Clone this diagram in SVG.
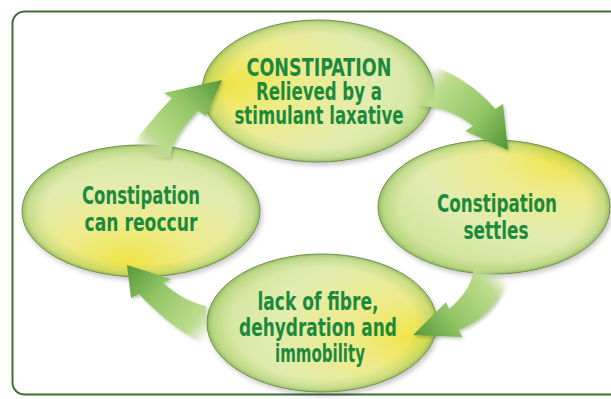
<svg xmlns="http://www.w3.org/2000/svg" width="611" height="399" viewBox="0 0 611 399">
  <style>
    .lbl { font-family: "Liberation Sans Narrow", "DejaVu Sans Condensed", "Liberation Sans", sans-serif; font-weight: bold; font-size: 24px; fill: #1b8a3c; text-anchor: middle; }
    .base { stroke: #5a6f3c; stroke-width: 1; stroke-opacity: 0.8; filter: url(#shadow); }
    .rim { fill: url(#rim); }
    .arrow { stroke: none; filter: url(#ashadow); }
  </style>
  <defs>
    <filter id="shadow" x="-20%" y="-20%" width="140%" height="150%">
      <feDropShadow dx="2" dy="3" stdDeviation="2.5" flood-color="#000" flood-opacity="0.22"/>
    </filter>
    <filter id="ashadow" x="-30%" y="-30%" width="160%" height="160%">
      <feDropShadow dx="1.5" dy="2" stdDeviation="1.5" flood-color="#2e5a1e" flood-opacity="0.3"/>
    </filter>
    <radialGradient id="rim">
      <stop offset="0" stop-color="#ffffff" stop-opacity="0"/>
      <stop offset="0.8" stop-color="#9cc45a" stop-opacity="0"/>
      <stop offset="0.95" stop-color="#8cbf55" stop-opacity="0.35"/>
      <stop offset="1" stop-color="#6aa040" stop-opacity="0.6"/>
    </radialGradient>
    <radialGradient id="gTop" cx="0.12" cy="0.45" r="0.95">
      <stop offset="0" stop-color="#f0e447"/>
      <stop offset="0.3" stop-color="#eeeb8c"/>
      <stop offset="0.65" stop-color="#e2ecb0"/>
      <stop offset="1" stop-color="#cde398"/>
    </radialGradient>
    <radialGradient id="gRight" cx="0.8" cy="0.12" r="0.95">
      <stop offset="0" stop-color="#f0e447"/>
      <stop offset="0.3" stop-color="#eeeb8c"/>
      <stop offset="0.65" stop-color="#e2ecb0"/>
      <stop offset="1" stop-color="#cde398"/>
    </radialGradient>
    <radialGradient id="gLeft" cx="0.45" cy="0.88" r="0.95">
      <stop offset="0" stop-color="#f0e447"/>
      <stop offset="0.3" stop-color="#eeeb8c"/>
      <stop offset="0.65" stop-color="#e2ecb0"/>
      <stop offset="1" stop-color="#cde398"/>
    </radialGradient>
    <radialGradient id="gBottom" cx="0.9" cy="0.6" r="0.95">
      <stop offset="0" stop-color="#f0e447"/>
      <stop offset="0.3" stop-color="#eeeb8c"/>
      <stop offset="0.65" stop-color="#e2ecb0"/>
      <stop offset="1" stop-color="#cde398"/>
    </radialGradient>
    <linearGradient id="a1" gradientUnits="userSpaceOnUse" x1="146" y1="156" x2="222" y2="80">
      <stop offset="0" stop-color="#d3e8a0" stop-opacity="0"/>
      <stop offset="0.18" stop-color="#bcdc8c"/>
      <stop offset="0.6" stop-color="#94c666"/>
      <stop offset="1" stop-color="#55993a"/>
    </linearGradient>
    <linearGradient id="a2" gradientUnits="userSpaceOnUse" x1="420" y1="84" x2="508" y2="150">
      <stop offset="0" stop-color="#d3e8a0" stop-opacity="0"/>
      <stop offset="0.18" stop-color="#bcdc8c"/>
      <stop offset="0.6" stop-color="#94c666"/>
      <stop offset="1" stop-color="#519536"/>
    </linearGradient>
    <linearGradient id="a3" gradientUnits="userSpaceOnUse" x1="494" y1="266" x2="413" y2="335">
      <stop offset="0" stop-color="#d3e8a0" stop-opacity="0"/>
      <stop offset="0.18" stop-color="#bcdc8c"/>
      <stop offset="0.6" stop-color="#94c666"/>
      <stop offset="1" stop-color="#55993a"/>
    </linearGradient>
    <linearGradient id="a4" gradientUnits="userSpaceOnUse" x1="212" y1="328" x2="127" y2="265">
      <stop offset="0" stop-color="#d3e8a0" stop-opacity="0"/>
      <stop offset="0.18" stop-color="#bcdc8c"/>
      <stop offset="0.6" stop-color="#94c666"/>
      <stop offset="1" stop-color="#55993a"/>
    </linearGradient>
  </defs>

  <rect x="0" y="0" width="611" height="399" fill="#ffffff"/>
  <rect x="12.5" y="11.5" width="640" height="383" rx="12" fill="#ffffff" stroke="#3e6f35" stroke-width="2"/>

  <g id="node-top">
    <ellipse class="base" cx="318" cy="91" rx="116" ry="71" fill="url(#gTop)"/>
    <ellipse class="rim" cx="318" cy="91" rx="116" ry="71"/>
    <text class="lbl" x="319" y="76" textLength="145" lengthAdjust="spacingAndGlyphs">CONSTIPATION</text>
    <text class="lbl" x="319" y="100" textLength="126" lengthAdjust="spacingAndGlyphs">Relieved by a</text>
    <text class="lbl" x="319" y="124" textLength="169" lengthAdjust="spacingAndGlyphs">stimulant laxative</text>
  </g>

  <g id="node-right">
    <ellipse class="base" cx="494" cy="207" rx="116" ry="67" fill="url(#gRight)"/>
    <ellipse class="rim" cx="494" cy="207" rx="116" ry="67"/>
    <text class="lbl" x="497" y="212" textLength="120" lengthAdjust="spacingAndGlyphs">Constipation</text>
    <text class="lbl" x="496" y="239" textLength="65" lengthAdjust="spacingAndGlyphs">settles</text>
  </g>

  <g id="node-bottom">
    <ellipse class="base" cx="322" cy="323" rx="115" ry="69" fill="url(#gBottom)"/>
    <ellipse class="rim" cx="322" cy="323" rx="115" ry="69"/>
    <text class="lbl" x="318" y="310" textLength="121" lengthAdjust="spacingAndGlyphs">lack of fibre,</text>
    <text class="lbl" x="318" y="336" textLength="158" lengthAdjust="spacingAndGlyphs">dehydration and</text>
    <text class="lbl" x="320" y="362" textLength="90" lengthAdjust="spacingAndGlyphs">immobility</text>
  </g>

  <g id="node-left">
    <ellipse class="base" cx="141" cy="211" rx="119" ry="66" fill="url(#gLeft)"/>
    <ellipse class="rim" cx="141" cy="211" rx="119" ry="66"/>
    <text class="lbl" x="141" y="204" textLength="118" lengthAdjust="spacingAndGlyphs">Constipation</text>
    <text class="lbl" x="141" y="231" textLength="113" lengthAdjust="spacingAndGlyphs">can reoccur</text>
  </g>

  <g id="connectors">
    <path id="arrow-left-top" class="arrow" fill="url(#a1)" d="M124,154 C140,135 158,112 172,98 L164,93 L222,80 L206,116 L198,111 C185,125 172,140 170,158 Z"/>
    <path id="arrow-top-right" class="arrow" fill="url(#a2)" d="M425,64 C450,70 478,88 495,109 L503,104 L508,150 L465,131 L473,126 C458,114 440,106 418,106 Z"/>
    <path id="arrow-right-bottom" class="arrow" fill="url(#a3)" d="M474,268 C472,285 462,298 449,309 L446,302 L413,335 L462,337 L459,330 C485,320 502,300 512,268 Z"/>
    <path id="arrow-bottom-left" class="arrow" fill="url(#a4)" d="M206,306 C190,303 175,293 163,283 L171,279 L127,265 L131,298 L139,294 C160,316 185,336 207,344 Z"/>
  </g>
</svg>
